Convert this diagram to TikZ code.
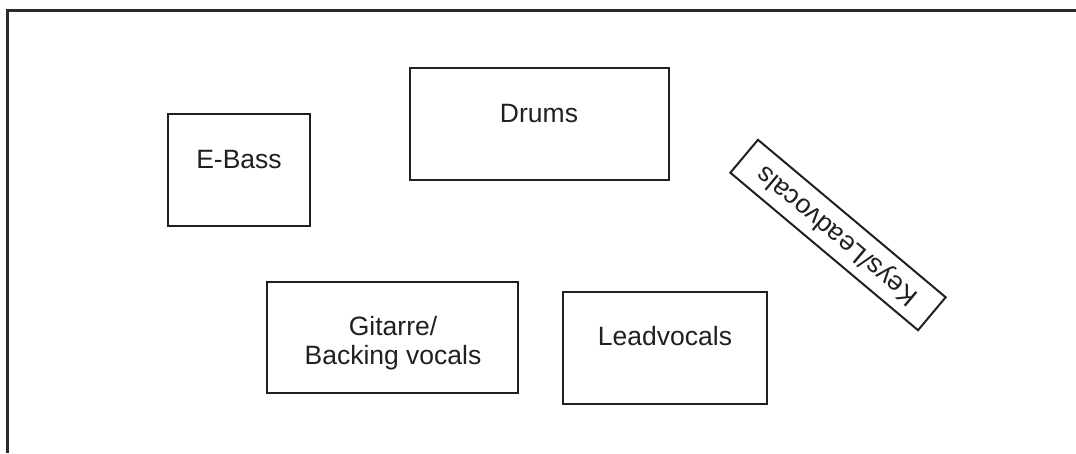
\documentclass[tikz,border=0pt]{standalone}
\usepackage{fontspec}
\setmainfont{Liberation Sans}
\definecolor{ink}{HTML}{231F20}
\definecolor{frame}{HTML}{2A2A2A}
\begin{document}
\begin{tikzpicture}[x=1pt,y=-1pt,
  box/.style={draw=ink,line width=2pt,rectangle,inner sep=0pt},
  lbl/.style={text=ink,font=\fontsize{26.5}{29}\selectfont,inner sep=0pt,anchor=base,align=center}]
\useasboundingbox (0,0) rectangle (1076,453);
\fill[white] (0,0) rectangle (1076,453);
% outer frame
\coordinate (fbl) at (7,453);
\coordinate (ftl) at (7,10);
\coordinate (ftr) at (1076,10);
\draw[frame,line width=3pt] (fbl) -- (ftl) -- (ftr);
% E-Bass
\node[box,minimum width=142pt,minimum height=112pt] (bass) at (239,170) {};
\node[lbl] (bassl) at (239,168) {E-Bass};
% Drums
\node[box,minimum width=259pt,minimum height=112pt] (drums) at (539.5,124) {};
\node[lbl] (drumsl) at (539,122) {Drums};
% Gitarre
\node[box,minimum width=251pt,minimum height=111pt] (git) at (392.5,337.5) {};
\node[lbl] (gitl1) at (393,335) {Gitarre/};
\node[lbl] (gitl2) at (393,364) {Backing vocals};
% Leadvocals
\node[box,minimum width=204pt,minimum height=112pt] (lead) at (665,348) {};
\node[lbl] (leadl) at (665,345) {Leadvocals};
% Keys/Leadvocals (rotated)
\node[box,minimum width=245pt,minimum height=43pt,rotate=140,
  text=ink,font=\fontsize{26.5}{29}\selectfont] (keys) at (838,235) {Keys/Leadvocals};
\end{tikzpicture}
\end{document}
